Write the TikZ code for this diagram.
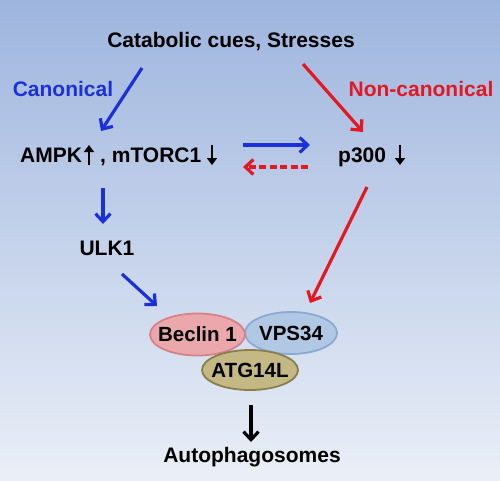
\documentclass[tikz,border=0pt]{standalone}
\usepackage{fontspec}
\setmainfont{Liberation Sans}
\usetikzlibrary{arrows.meta,shapes.geometric}
\definecolor{bblue}{RGB}{28,48,218}
\definecolor{rred}{RGB}{226,24,34}
\definecolor{bgtop}{RGB}{158,181,222}
\definecolor{bgbot}{RGB}{234,239,247}
\definecolor{becfill}{RGB}{234,168,172}
\definecolor{becedge}{RGB}{214,130,136}
\definecolor{vpsfill}{RGB}{176,200,228}
\definecolor{vpsedge}{RGB}{138,170,210}
\definecolor{atgfill}{RGB}{196,184,132}
\definecolor{atgedge}{RGB}{138,126,74}
\tikzset{
  lbl/.style={font=\fontsize{21}{25}\selectfont\bfseries, inner sep=0pt},
  cx/.style={ellipse, draw, line width=1.8pt, minimum width=#1, minimum height=42pt, inner xsep=-6pt, inner ysep=0pt, font=\fontsize{20.5}{24}\selectfont\bfseries},
  conn/.style={line width=3.2pt, -{Straight Barb[length=8pt,width=15pt,line width=3.2pt]}},
  bconn/.style={conn, draw=bblue},
  rconn/.style={conn, draw=rred},
  updown/.style={line width=2.8pt, -{Triangle[length=7pt,width=10pt]}},
}
\begin{document}
\begin{tikzpicture}[x=1pt,y=-1pt]
\shade[top color=bgtop, bottom color=bgbot] (0,0) rectangle (500,480);
\useasboundingbox (0,0) rectangle (500,480);
\node[lbl] (cues) at (231,42) {Catabolic cues, Stresses};
\node[lbl, text=bblue] (canon) at (63,89) {Canonical};
\node[lbl, text=rred] (noncanon) at (421,89) {Non-canonical};
\node[lbl, anchor=base west] (ampk) at (20,162) {AMPK};
\node[lbl, anchor=base west] (mtor) at (100,162) {, mTORC1};
\node[lbl, anchor=base west] (p300) at (338,162) {p300};
\coordinate (ampkup0) at (89,165);
\coordinate (ampkup1) at (89,145);
\coordinate (mtordn0) at (212,145);
\coordinate (mtordn1) at (212,165);
\coordinate (p3dn0) at (400,145);
\coordinate (p3dn1) at (400,165);
\draw[updown] (ampkup0) -- (ampkup1);
\draw[updown] (mtordn0) -- (mtordn1);
\draw[updown] (p3dn0) -- (p3dn1);
\node[lbl] (ulk) at (107,248) {ULK1};
\node[cx=92pt, fill=vpsfill, draw=vpsedge] (vps) at (291,333) {VPS34};
\node[cx=95pt, fill=becfill, draw=becedge] (bec) at (197.5,334.5) {Beclin 1};
\node[cx=96pt, minimum height=40pt, fill=atgfill, draw=atgedge] (atg) at (250,370) {ATG14L};
\node[lbl] (auto) at (252,457) {Autophagosomes};
\coordinate (c1a) at (142,68);
\coordinate (c1b) at (101,131);
\coordinate (c2a) at (303,64);
\coordinate (c2b) at (363,132);
\coordinate (h1a) at (243,145);
\coordinate (h1b) at (310,145);
\coordinate (h2a) at (308,167);
\coordinate (h2b) at (243,167);
\coordinate (d1a) at (103,188);
\coordinate (d1b) at (103,224);
\coordinate (u1a) at (122,274);
\coordinate (u1b) at (157,306);
\coordinate (p1a) at (367,187);
\coordinate (p1b) at (310,303);
\coordinate (a1a) at (251,405);
\coordinate (a1b) at (251,442);
\draw[bconn] (c1a) -- (c1b);
\draw[rconn] (c2a) -- (c2b);
\draw[bconn] (h1a) -- (h1b);
\draw[rconn, dash pattern=on 7pt off 3.5pt] (h2a) -- (h2b);
\draw[bconn] (d1a) -- (d1b);
\draw[bconn] (u1a) -- (u1b);
\draw[rconn] (p1a) -- (p1b);
\draw[conn, draw=black] (a1a) -- (a1b);
\end{tikzpicture}
\end{document}
